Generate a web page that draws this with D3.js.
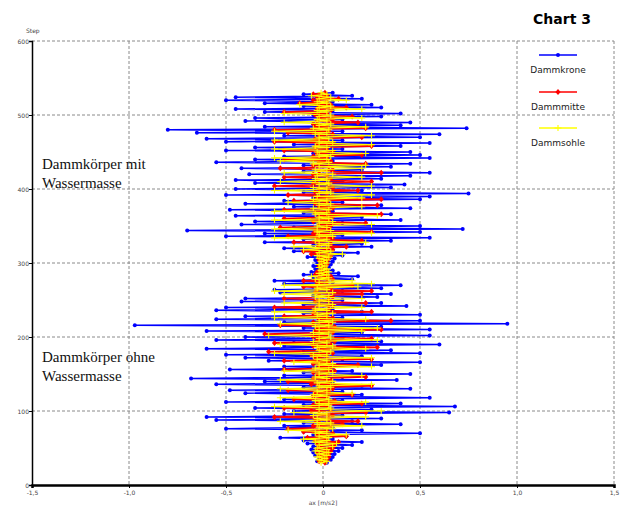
<!DOCTYPE html>
<html>
<head>
<meta charset="utf-8">
<script src="https://cdn.jsdelivr.net/npm/d3@7"></script>
<style>
  body { margin: 0; background: #fff; }
  svg { display: block; }
  .grid line { stroke: #8a8a8a; stroke-dasharray: 3,2; stroke-width: 1; }
  .tick-label { font-family: "DejaVu Sans", sans-serif; font-size: 6px; fill: #444; }
  .legend-text { font-family: "DejaVu Sans", sans-serif; font-size: 9px; fill: #222; }
  .note { font-family: "Liberation Serif", "Times New Roman", serif; font-size: 15px; fill: #111; }
</style>
</head>
<body>
<div id="root"></div>
<script>
// tick values on both axes
const xTicks = [-1.5, -1.0, -0.5, 0, 0.5, 1.0, 1.5]
const yTicks = [0, 100, 200, 300, 400, 500, 600]

// series names / colours
const seriesNames = ['Dammkrone', 'Dammmitte', 'Dammsohle']
const seriesColors = ['#0000ff', '#ff0000', '#ffff00']

// samples are every 2nd step from 30 to 530
const firstStep = 30
const lastStep = 530
const stepInc = 2

// ax [m/s2], one value per sample
const dammkrone = [
  0.02,-0.03,0.04,-0.02,0.05,-0.04,0.06,-0.05,0.08,-0.06,
  0.1,-0.05,0.15,-0.08,0.2,-0.1,0.05,-0.22,0.12,-0.05,
  0.5,-0.1,0.2,-0.5,0.05,-0.2,0.4,-0.1,0.15,-0.55,
  0.3,-0.6,0.1,-0.2,0.65,-0.15,0.25,-0.35,0.68,-0.1,
  0.4,-0.5,0.1,-0.2,0.55,-0.05,0.2,-0.4,0.1,-0.48,
  0.45,-0.1,0.2,-0.55,0.05,-0.3,0.38,-0.68,0.1,-0.2,
  0.45,-0.1,0.15,-0.48,0.05,-0.2,0.3,-0.05,0.5,-0.28,
  0.1,-0.4,0.2,-0.5,0.5,-0.1,0.35,-0.6,0.05,-0.2,
  0.6,-0.15,0.3,-0.55,0.1,-0.4,0.55,-0.05,0.2,-0.6,
  0.55,-0.1,0.3,-0.97,0.95,-0.2,0.5,-0.55,0.1,-0.4,
  0.5,-0.1,0.2,-0.55,0.05,-0.5,0.43,-0.1,0.3,-0.42,
  0.1,-0.4,0.28,-0.05,0.35,-0.22,0.1,-0.25,0.3,-0.05,
  0.4,-0.2,0.05,-0.25,0.15,-0.05,0.18,-0.1,0.08,-0.06,
  0.05,-0.04,0.03,-0.05,0.04,-0.03,0.05,-0.04,0.06,-0.08,
  0.1,-0.05,0.18,-0.15,0.05,-0.2,0.25,-0.05,0.2,-0.3,
  0.35,-0.1,0.55,-0.5,0.1,-0.3,0.5,-0.7,0.72,-0.15,
  0.5,-0.42,0.1,-0.35,0.4,-0.05,0.2,-0.45,0.35,-0.1,
  0.05,-0.48,0.45,-0.15,0.3,-0.4,0.1,-0.2,0.5,-0.05,
  0.55,-0.5,0.75,-0.1,0.2,-0.45,0.35,-0.05,0.42,-0.35,
  0.1,-0.45,0.3,-0.05,0.45,-0.38,0.55,-0.1,0.2,-0.42,
  0.35,-0.1,0.45,-0.55,0.05,-0.35,0.55,-0.2,0.5,-0.05,
  0.45,-0.5,0.1,-0.35,0.4,-0.15,0.55,-0.5,0.1,-0.6,
  0.5,-0.2,0.6,-0.65,0.1,-0.8,0.74,-0.3,0.4,-0.05,
  0.45,-0.4,0.1,-0.35,0.3,-0.05,0.4,-0.3,0.05,-0.45,
  0.3,-0.1,0.25,-0.3,0.05,-0.5,0.2,-0.45,0.15,-0.1,
  0.05
]
const dammmitte = [
  0.01,-0.02,0.02,-0.01,0.03,-0.02,0.03,-0.03,0.04,-0.03,
  0.05,-0.02,0.06,-0.03,0.08,-0.04,0.02,-0.08,0.12,-0.03,
  0.05,-0.1,0.02,-0.18,0.04,-0.05,0.1,-0.02,0.18,-0.04,
  0.03,-0.25,0.05,-0.02,0.22,-0.06,0.04,-0.2,0.02,-0.05,
  0.2,-0.03,0.06,-0.15,0.02,-0.05,0.15,-0.04,0.03,-0.18,
  0.05,-0.02,0.25,-0.06,0.03,-0.18,0.04,-0.05,0.22,-0.03,
  0.02,-0.05,0.06,-0.2,0.04,-0.02,0.18,-0.05,0.03,-0.2,
  0.25,-0.04,0.02,-0.06,0.05,-0.28,0.03,-0.02,0.28,-0.05,
  0.04,-0.25,0.06,-0.03,0.25,-0.05,0.02,-0.3,0.05,-0.04,
  0.3,-0.03,0.06,-0.22,0.04,-0.05,0.35,-0.02,0.05,-0.2,
  0.02,-0.05,0.25,-0.04,0.03,-0.25,0.05,-0.02,0.22,-0.04,
  0.03,-0.2,0.05,-0.02,0.2,-0.04,0.25,-0.03,0.04,-0.1,
  0.15,-0.03,0.02,-0.1,0.05,-0.02,0.04,-0.04,0.02,-0.03,
  0.02,-0.01,0.01,-0.02,0.02,-0.01,0.02,-0.02,0.03,-0.02,
  0.04,-0.06,0.02,-0.1,0.05,-0.03,0.12,-0.02,0.04,-0.15,
  0.2,-0.03,0.05,-0.18,0.02,-0.05,0.25,-0.04,0.03,-0.22,
  0.04,-0.02,0.22,-0.05,0.03,-0.2,0.05,-0.02,0.3,-0.04,
  0.03,-0.2,0.05,-0.02,0.28,-0.04,0.02,-0.15,0.3,-0.03,
  0.05,-0.18,0.02,-0.04,0.18,-0.02,0.05,-0.25,0.03,-0.05,
  0.25,-0.03,0.04,-0.2,0.02,-0.05,0.3,-0.02,0.05,-0.22,
  0.03,-0.05,0.22,-0.02,0.04,-0.2,0.02,-0.05,0.2,-0.03,
  0.05,-0.2,0.02,-0.04,0.25,-0.03,0.05,-0.25,0.02,-0.04,
  0.2,-0.02,0.05,-0.18,0.03,-0.25,0.22,-0.04,0.02,-0.05,
  0.18,-0.03,0.05,-0.02,0.15,-0.04,0.02,-0.2,0.04,-0.03,
  0.12,-0.02,0.04,-0.12,0.02,-0.05,0.08,-0.03,0.02,-0.05,
  0.01
]
const dammsohle = [
  -0.01,0.02,-0.02,0.01,-0.03,0.02,-0.02,0.03,-0.04,0.02,
  -0.03,0.05,-0.02,0.07,-0.04,0.02,-0.1,0.03,-0.02,0.12,
  -0.04,0.02,-0.18,0.05,-0.02,0.2,-0.03,0.04,-0.22,0.02,
  -0.03,0.22,-0.05,0.02,-0.15,0.3,-0.02,0.04,-0.25,0.03,
  -0.02,0.22,-0.04,0.03,-0.22,0.02,-0.05,0.15,-0.03,0.02,
  -0.22,0.04,-0.02,0.25,-0.03,0.05,-0.22,0.02,-0.04,0.2,
  -0.02,0.05,-0.2,0.03,-0.04,0.25,-0.02,0.05,-0.15,0.02,
  -0.03,0.25,-0.05,0.02,-0.25,0.04,-0.02,0.22,-0.03,0.05,
  -0.22,0.02,-0.05,0.28,-0.02,0.04,-0.28,0.03,-0.05,0.2,
  -0.02,0.28,-0.04,0.03,-0.22,0.05,-0.02,0.22,-0.25,0.02,
  -0.03,0.05,-0.25,0.02,-0.04,0.2,-0.02,0.05,-0.2,0.03,
  -0.02,0.2,-0.04,0.03,-0.2,0.05,-0.25,0.02,-0.03,0.18,
  -0.2,0.25,-0.02,0.15,-0.04,0.03,-0.06,0.02,-0.02,0.03,
  -0.01,0.02,-0.02,0.01,-0.02,0.02,-0.01,0.02,-0.02,0.03,
  -0.03,0.1,-0.02,0.04,-0.1,0.02,-0.15,0.03,-0.02,0.22,
  -0.04,0.02,-0.25,0.05,-0.02,0.25,-0.03,0.04,-0.25,0.02,
  -0.03,0.25,-0.02,0.05,-0.25,0.03,-0.02,0.28,-0.04,0.02,
  -0.25,0.03,-0.05,0.2,-0.02,0.04,-0.18,0.02,-0.05,0.2,
  -0.03,0.25,-0.02,0.04,-0.25,0.02,-0.05,0.25,-0.02,0.03,
  -0.22,0.02,-0.04,0.2,-0.03,0.05,-0.2,0.02,-0.04,0.2,
  -0.02,0.22,-0.05,0.03,-0.22,0.02,-0.25,0.04,-0.02,0.22,
  -0.03,0.05,-0.25,0.02,-0.04,0.25,-0.02,0.05,-0.25,0.03,
  -0.02,0.25,-0.04,0.02,-0.25,0.03,-0.05,0.22,-0.02,0.04,
  -0.2,0.02,-0.03,0.2,-0.02,0.04,-0.2,0.02,-0.03,0.2,
  -0.02,0.04,-0.12,0.02,-0.03,0.12,-0.02,0.04,-0.06,0.02,
  -0.01
]

const display = () => {
    const width = 621
    const height = 507
    // plot area
    const left = 32, right = 614, top = 41, bottom = 485

    const x = d3.scaleLinear().domain([-1.5, 1.5]).range([left, right])
    const y = d3.scaleLinear().domain([0, 600]).range([bottom, top])
    const fmt = v => v === 0 ? '0' : d3.format('.1f')(v).replace('.', ',').replace('\u2212', '-')

    const svg = d3.select('#root').append('svg')
        .attr('width', width)
        .attr('height', height)

    // dashed grid incl. top / right border
    const grid = svg.append('g').attr('class', 'grid')
    grid.selectAll('.gx')
        .data(xTicks.slice(1))
        .enter().append('line')
        .attr('x1', d => x(d)).attr('x2', d => x(d))
        .attr('y1', y(600)).attr('y2', y(0))
    grid.selectAll('.gy')
        .data(yTicks.slice(1))
        .enter().append('line')
        .attr('x1', x(-1.5)).attr('x2', x(1.5))
        .attr('y1', d => y(d)).attr('y2', d => y(d))

    // axes
    const yAxis = svg.append('g')
        .attr('transform', `translate(${left},0)`)
        .call(d3.axisLeft(y).tickValues(yTicks).tickSize(3).tickFormat(d3.format('d')))
    const xAxis = svg.append('g')
        .attr('transform', `translate(0,${bottom})`)
        .call(d3.axisBottom(x).tickValues(xTicks).tickSize(3).tickFormat(fmt))
    ;[xAxis, yAxis].forEach(a => {
        a.select('.domain').attr('stroke', '#000').attr('stroke-width', 1.5)
        a.selectAll('.tick line').attr('stroke', '#000')
        a.selectAll('.tick text').attr('class', 'tick-label').attr('fill', '#444')
    })
    xAxis.select('.domain').attr('stroke-width', 2.5)
    yAxis.selectAll('.tick text').attr('x', -3).attr('dy', '0.35em')
    xAxis.selectAll('.tick text').attr('y', 6)

    svg.append('text').attr('class', 'tick-label')
        .attr('x', 26).attr('y', 33).text('Step')
    svg.append('text').attr('class', 'tick-label')
        .attr('x', x(0)).attr('y', 505).attr('text-anchor', 'middle')
        .text('ax [m/s2]')

    // data
    const steps = d3.range(firstStep, lastStep + 1, stepInc)
    const allSeries = [dammkrone, dammmitte, dammsohle].map((vals, i) => ({
        name: seriesNames[i],
        color: seriesColors[i],
        points: steps.slice(0, vals.length).map((s, j) => ({ step: s, ax: vals[j] }))
    }))

    const line = d3.line().x(d => x(d.ax)).y(d => y(d.step))

    const markers = {
        Dammkrone: (g, c) => g.append('circle').attr('r', 2).attr('fill', c),
        Dammmitte: (g, c) => g.append('path').attr('d', 'M0,-3L2.6,0L0,3L-2.6,0Z').attr('fill', c),
        Dammsohle: (g, c) => g.append('path').attr('d', 'M-3.5,0H3.5M0,-3V3').attr('stroke', c).attr('stroke-width', 1.1)
    }
    const lineWidths = [1.5, 1.6, 1.2]

    allSeries.forEach((s, i) => {
        const g = svg.append('g')
        g.append('path')
            .datum(s.points)
            .attr('fill', 'none')
            .attr('stroke', s.color)
            .attr('stroke-width', lineWidths[i])
            .attr('stroke-linejoin', 'round')
            .attr('d', line)
        g.selectAll('.m')
            .data(s.points)
            .enter().append('g')
            .attr('transform', d => `translate(${x(d.ax)},${y(d.step)})`)
            .each(function() { markers[s.name](d3.select(this), s.color) })
    })

    // legend (no frame, inside plot at top right)
    const legendY = [55, 92, 128]
    const lg = svg.append('g')
    allSeries.forEach((s, i) => {
        lg.append('line')
            .attr('x1', 539).attr('x2', 577)
            .attr('y1', legendY[i]).attr('y2', legendY[i])
            .attr('stroke', s.color).attr('stroke-width', 1.3)
        markers[s.name](lg.append('g').attr('transform', `translate(558,${legendY[i]})`), s.color)
        lg.append('text').attr('class', 'legend-text')
            .attr('x', 558).attr('y', legendY[i] + 18)
            .attr('text-anchor', 'middle')
            .text(s.name)
    })

    // title
    svg.append('text')
        .attr('x', 591).attr('y', 24)
        .attr('text-anchor', 'end')
        .style('font-family', '"DejaVu Sans", sans-serif')
        .style('font-weight', 'bold')
        .style('font-size', '14px')
        .text('Chart 3')

    // annotations
    const notes = [
        { lines: ['Dammkörper mit', 'Wassermasse'], y: 169 },
        { lines: ['Dammkörper ohne', 'Wassermasse'], y: 362 }
    ]
    notes.forEach(n => {
        n.lines.forEach((t, i) => {
            svg.append('text').attr('class', 'note')
                .attr('x', 42).attr('y', n.y + i * 18.5)
                .text(t)
        })
    })
}

display()
</script>
</body>
</html>
